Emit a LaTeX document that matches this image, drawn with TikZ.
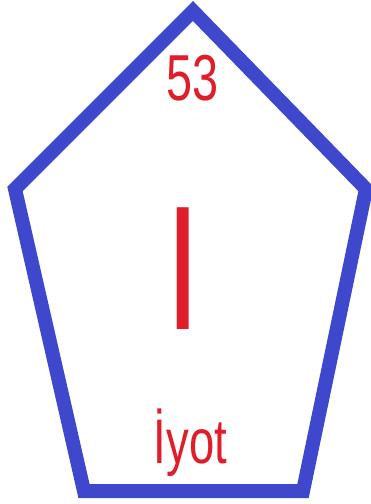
\documentclass[tikz,border=0pt]{standalone}
\usepackage{fontspec}
\setmainfont{Liberation Sans}
\newfontfamily\elNarrow[FakeStretch=0.72]{Liberation Sans}
\usetikzlibrary{positioning}
\definecolor{elBlue}{HTML}{3F48CC}
\definecolor{elRed}{HTML}{E01E2B}
\tikzset{
  el-frame/.style={draw=elBlue, line width=14pt, line join=miter},
  el-text/.style={text=elRed, inner sep=0pt},
  el-num/.style={el-text, font=\elNarrow\fontsize{65}{65}\selectfont},
  el-sym/.style={el-text, font=\elNarrow\fontsize{177}{177}\selectfont},
  el-name/.style={el-text, font=\elNarrow\fontsize{63}{63}\selectfont, anchor=base}
}
\begin{document}
\begin{tikzpicture}[x=1pt, y=-1pt]
\useasboundingbox[fill=white] (0,0) rectangle (371,504);
% corners of the frame
\coordinate (top) at (193,11);
\coordinate (left) at (15,189);
\coordinate (right) at (366,189);
\coordinate (botr) at (303,491);
\coordinate (botl) at (84,491);
\draw[el-frame] (top) -- (right) -- (botr) -- (botl) -- (left) -- cycle;

\node[el-num] (num) at (193,78.5) {53};
\node[el-sym] (sym) at (183.5,268.5) {I};
\node[el-name] (name) at (190.5,463) {İyot};
\end{tikzpicture}
\end{document}
